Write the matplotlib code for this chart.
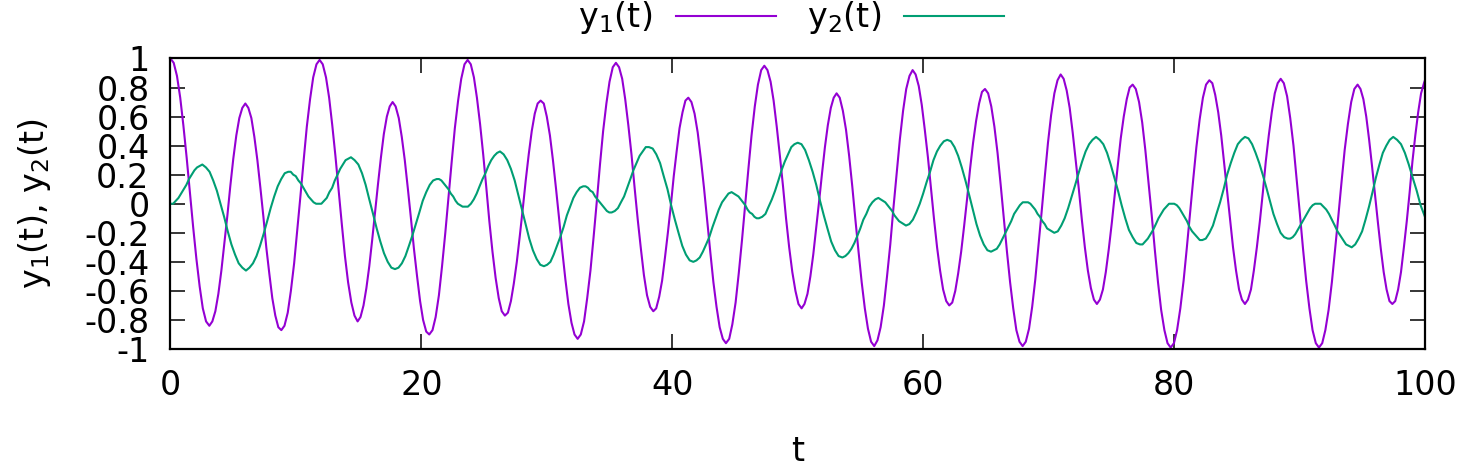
import matplotlib
matplotlib.use("Agg")
import matplotlib.pyplot as plt

# values, one row per half swing of the curve
t1 = [0,
      0.26, 0.52, 0.78, 1.03, 1.29, 1.55, 1.81, 2.07, 2.33, 2.58, 2.84, 3.10,
      3.34, 3.58, 3.82, 4.06, 4.30, 4.54, 4.77, 5.01, 5.25, 5.49, 5.73, 5.97,
      6.21, 6.45, 6.69, 6.93, 7.17, 7.41, 7.64, 7.88, 8.12, 8.36, 8.60, 8.84,
      9.09, 9.35, 9.60, 9.86, 10.11, 10.37, 10.62, 10.87, 11.13, 11.38, 11.64, 11.89,
      12.14, 12.40, 12.65, 12.90, 13.15, 13.41, 13.66, 13.91, 14.16, 14.42, 14.67, 14.92,
      15.15, 15.39, 15.62, 15.85, 16.08, 16.32, 16.55, 16.78, 17.01, 17.25, 17.48, 17.71,
      17.95, 18.20, 18.44, 18.68, 18.93, 19.17, 19.41, 19.66, 19.90, 20.14, 20.39, 20.63,
      20.89, 21.14, 21.40, 21.65, 21.91, 22.16, 22.42, 22.67, 22.93, 23.18, 23.44, 23.69,
      23.94, 24.19, 24.43, 24.68, 24.93, 25.18, 25.42, 25.67, 25.92, 26.17, 26.41, 26.66,
      26.90, 27.14, 27.37, 27.61, 27.85, 28.09, 28.32, 28.56, 28.80, 29.04, 29.27, 29.51,
      29.76, 30.00, 30.25, 30.49, 30.74, 30.99, 31.23, 31.48, 31.72, 31.97, 32.21, 32.46,
      32.71, 32.97, 33.22, 33.48, 33.73, 33.99, 34.24, 34.49, 34.75, 35.00, 35.26, 35.51,
      35.76, 36.01, 36.25, 36.50, 36.75, 37.00, 37.25, 37.50, 37.74, 37.99, 38.24, 38.49,
      38.72, 38.96, 39.19, 39.42, 39.65, 39.89, 40.12, 40.35, 40.58, 40.82, 41.05, 41.28,
      41.53, 41.78, 42.03, 42.28, 42.53, 42.78, 43.03, 43.28, 43.53, 43.78, 44.03, 44.28,
      44.54, 44.79, 45.05, 45.30, 45.56, 45.81, 46.07, 46.32, 46.58, 46.83, 47.09, 47.34,
      47.59, 47.84, 48.08, 48.33, 48.58, 48.83, 49.07, 49.32, 49.57, 49.82, 50.06, 50.31,
      50.54, 50.78, 51.01, 51.24, 51.47, 51.71, 51.94, 52.17, 52.40, 52.64, 52.87, 53.10,
      53.35, 53.60, 53.85, 54.10, 54.35, 54.60, 54.85, 55.10, 55.35, 55.60, 55.85, 56.10,
      56.36, 56.61, 56.87, 57.12, 57.38, 57.63, 57.89, 58.14, 58.40, 58.65, 58.91, 59.16,
      59.40, 59.65, 59.89, 60.13, 60.38, 60.62, 60.86, 61.11, 61.35, 61.59, 61.84, 62.08,
      62.32, 62.56, 62.79, 63.03, 63.27, 63.51, 63.74, 63.98, 64.22, 64.46, 64.69, 64.93,
      65.18, 65.43, 65.68, 65.93, 66.18, 66.43, 66.68, 66.93, 67.18, 67.43, 67.68, 67.93,
      68.18, 68.44, 68.69, 68.94, 69.19, 69.45, 69.70, 69.95, 70.20, 70.46, 70.71, 70.96,
      71.20, 71.44, 71.68, 71.92, 72.16, 72.41, 72.65, 72.89, 73.13, 73.37, 73.61, 73.85,
      74.09, 74.33, 74.56, 74.80, 75.04, 75.28, 75.51, 75.75, 75.99, 76.23, 76.46, 76.70,
      76.95, 77.21, 77.46, 77.71, 77.96, 78.22, 78.47, 78.72, 78.97, 79.23, 79.48, 79.73,
      79.99, 80.24, 80.50, 80.76, 81.01, 81.27, 81.53, 81.78, 82.04, 82.30, 82.55, 82.81,
      83.05, 83.28, 83.52, 83.76, 83.99, 84.23, 84.47, 84.70, 84.94, 85.18, 85.41, 85.65,
      85.89, 86.13, 86.36, 86.60, 86.84, 87.08, 87.31, 87.55, 87.79, 88.03, 88.26, 88.50,
      88.75, 89.01, 89.26, 89.52, 89.77, 90.03, 90.28, 90.53, 90.79, 91.04, 91.30, 91.55,
      91.81, 92.06, 92.32, 92.58, 92.83, 93.09, 93.35, 93.60, 93.86, 94.12, 94.37, 94.63,
      94.86, 95.09, 95.32, 95.55, 95.78, 96.02, 96.25, 96.48, 96.71, 96.94, 97.17, 97.40,
      97.63, 97.86, 98.09, 98.32, 98.55, 98.78, 99.00, 99.23, 99.46, 99.69, 99.92, 100.00]

y1 = [1.00,
      0.97, 0.88, 0.73, 0.54, 0.32, 0.08, -0.16, -0.38, -0.57, -0.72, -0.81, -0.84,
      -0.81, -0.74, -0.62, -0.46, -0.27, -0.08, 0.12, 0.31, 0.47, 0.59, 0.66, 0.69,
      0.66, 0.59, 0.46, 0.30, 0.11, -0.09, -0.30, -0.48, -0.65, -0.77, -0.85, -0.87,
      -0.84, -0.75, -0.60, -0.41, -0.18, 0.06, 0.30, 0.53, 0.72, 0.87, 0.96, 0.99,
      0.96, 0.87, 0.73, 0.54, 0.33, 0.09, -0.14, -0.36, -0.54, -0.68, -0.77, -0.81,
      -0.78, -0.70, -0.58, -0.43, -0.25, -0.05, 0.14, 0.32, 0.48, 0.60, 0.67, 0.70,
      0.67, 0.59, 0.46, 0.30, 0.10, -0.10, -0.31, -0.50, -0.67, -0.80, -0.88, -0.90,
      -0.87, -0.78, -0.63, -0.43, -0.20, 0.04, 0.29, 0.52, 0.71, 0.86, 0.96, 0.99,
      0.96, 0.87, 0.73, 0.55, 0.34, 0.11, -0.12, -0.33, -0.51, -0.65, -0.74, -0.77,
      -0.75, -0.67, -0.55, -0.40, -0.22, -0.03, 0.16, 0.34, 0.50, 0.62, 0.69, 0.71,
      0.69, 0.60, 0.47, 0.30, 0.10, -0.11, -0.32, -0.52, -0.69, -0.82, -0.90, -0.93,
      -0.90, -0.81, -0.65, -0.46, -0.23, 0.02, 0.27, 0.50, 0.69, 0.84, 0.94, 0.97,
      0.94, 0.86, 0.72, 0.54, 0.34, 0.11, -0.11, -0.31, -0.49, -0.63, -0.71, -0.74,
      -0.72, -0.64, -0.53, -0.37, -0.20, -0.01, 0.19, 0.36, 0.52, 0.63, 0.71, 0.73,
      0.70, 0.62, 0.49, 0.31, 0.11, -0.11, -0.33, -0.54, -0.71, -0.85, -0.93, -0.96,
      -0.93, -0.83, -0.68, -0.48, -0.25, -0.01, 0.24, 0.47, 0.67, 0.82, 0.92, 0.95,
      0.92, 0.84, 0.71, 0.53, 0.33, 0.12, -0.10, -0.30, -0.47, -0.60, -0.69, -0.72,
      -0.69, -0.62, -0.50, -0.35, -0.17, 0.02, 0.21, 0.39, 0.54, 0.66, 0.73, 0.76,
      0.73, 0.64, 0.51, 0.33, 0.12, -0.11, -0.33, -0.54, -0.72, -0.86, -0.95, -0.98,
      -0.94, -0.85, -0.70, -0.50, -0.28, -0.03, 0.21, 0.44, 0.64, 0.79, 0.88, 0.92,
      0.89, 0.81, 0.68, 0.51, 0.32, 0.11, -0.10, -0.30, -0.46, -0.59, -0.67, -0.70,
      -0.68, -0.60, -0.48, -0.33, -0.15, 0.04, 0.24, 0.42, 0.57, 0.69, 0.77, 0.79,
      0.76, 0.67, 0.53, 0.35, 0.13, -0.10, -0.33, -0.54, -0.72, -0.87, -0.95, -0.98,
      -0.95, -0.86, -0.71, -0.52, -0.29, -0.05, 0.19, 0.42, 0.61, 0.76, 0.85, 0.89,
      0.86, 0.78, 0.66, 0.49, 0.30, 0.10, -0.11, -0.30, -0.46, -0.58, -0.66, -0.69,
      -0.66, -0.59, -0.47, -0.31, -0.13, 0.07, 0.26, 0.45, 0.60, 0.72, 0.80, 0.82,
      0.79, 0.70, 0.56, 0.37, 0.15, -0.08, -0.32, -0.54, -0.73, -0.87, -0.96, -0.99,
      -0.96, -0.87, -0.72, -0.53, -0.31, -0.07, 0.17, 0.39, 0.58, 0.73, 0.82, 0.85,
      0.83, 0.75, 0.63, 0.47, 0.28, 0.08, -0.12, -0.30, -0.46, -0.59, -0.66, -0.69,
      -0.66, -0.59, -0.46, -0.30, -0.12, 0.08, 0.29, 0.47, 0.63, 0.76, 0.83, 0.86,
      0.83, 0.74, 0.59, 0.40, 0.17, -0.07, -0.31, -0.53, -0.72, -0.87, -0.96, -0.99,
      -0.96, -0.87, -0.73, -0.54, -0.32, -0.09, 0.15, 0.37, 0.55, 0.70, 0.79, 0.82,
      0.79, 0.72, 0.60, 0.44, 0.26, 0.06, -0.13, -0.31, -0.47, -0.59, -0.67, -0.69,
      -0.67, -0.59, -0.47, -0.30, -0.12, 0.08, 0.29, 0.47, 0.63, 0.76, 0.83, 0.85]

t2 = [0,
      0.21, 0.42, 0.64, 0.85, 1.06, 1.27, 1.48, 1.69, 1.91, 2.12, 2.33, 2.54,
      2.83, 3.12, 3.41, 3.70, 3.99, 4.28, 4.57, 4.86, 5.15, 5.44, 5.73, 6.02,
      6.30, 6.58, 6.86, 7.14, 7.42, 7.71, 7.99, 8.27, 8.55, 8.83, 9.11, 9.39,
      9.59, 9.79, 9.99, 10.20, 10.40, 10.60, 10.80, 11.00, 11.20, 11.41, 11.61, 11.81,
      12.03, 12.24, 12.46, 12.67, 12.89, 13.10, 13.32, 13.53, 13.75, 13.96, 14.18, 14.39,
      14.68, 14.98, 15.27, 15.56, 15.85, 16.15, 16.44, 16.73, 17.02, 17.32, 17.61, 17.90,
      18.18, 18.45, 18.73, 19.01, 19.28, 19.56, 19.84, 20.11, 20.39, 20.67, 20.94, 21.22,
      21.41, 21.60, 21.79, 21.97, 22.16, 22.35, 22.54, 22.73, 22.91, 23.10, 23.29, 23.48,
      23.71, 23.95, 24.18, 24.41, 24.64, 24.88, 25.11, 25.34, 25.57, 25.81, 26.04, 26.27,
      26.56, 26.85, 27.14, 27.44, 27.73, 28.02, 28.31, 28.60, 28.89, 29.19, 29.48, 29.77,
      30.03, 30.29, 30.55, 30.81, 31.07, 31.34, 31.60, 31.86, 32.12, 32.38, 32.64, 32.90,
      33.09, 33.28, 33.47, 33.66, 33.85, 34.04, 34.22, 34.41, 34.60, 34.79, 34.98, 35.17,
      35.42, 35.67, 35.91, 36.16, 36.41, 36.66, 36.90, 37.15, 37.40, 37.65, 37.89, 38.14,
      38.44, 38.73, 39.03, 39.32, 39.62, 39.91, 40.21, 40.50, 40.80, 41.09, 41.39, 41.68,
      41.93, 42.19, 42.44, 42.70, 42.95, 43.21, 43.46, 43.71, 43.97, 44.22, 44.48, 44.73,
      44.91, 45.09, 45.28, 45.46, 45.64, 45.82, 46.00, 46.18, 46.37, 46.55, 46.73, 46.91,
      47.17, 47.43, 47.68, 47.94, 48.20, 48.46, 48.71, 48.97, 49.23, 49.49, 49.74, 50.00,
      50.30, 50.59, 50.89, 51.19, 51.48, 51.78, 52.08, 52.37, 52.67, 52.97, 53.26, 53.56,
      53.80, 54.04, 54.28, 54.52, 54.76, 54.99, 55.23, 55.47, 55.71, 55.95, 56.19, 56.43,
      56.61, 56.80, 56.98, 57.16, 57.35, 57.53, 57.71, 57.90, 58.08, 58.26, 58.45, 58.63,
      58.90, 59.18, 59.45, 59.73, 60.00, 60.28, 60.55, 60.82, 61.10, 61.37, 61.65, 61.92,
      62.21, 62.50, 62.79, 63.08, 63.37, 63.67, 63.96, 64.25, 64.54, 64.83, 65.12, 65.41,
      65.64, 65.87, 66.10, 66.33, 66.56, 66.79, 67.02, 67.25, 67.48, 67.71, 67.94, 68.17,
      68.36, 68.55, 68.74, 68.93, 69.12, 69.31, 69.50, 69.69, 69.88, 70.07, 70.26, 70.45,
      70.73, 71.01, 71.28, 71.56, 71.84, 72.12, 72.39, 72.67, 72.95, 73.23, 73.50, 73.78,
      74.07, 74.36, 74.66, 74.95, 75.24, 75.53, 75.82, 76.11, 76.40, 76.70, 76.99, 77.28,
      77.49, 77.70, 77.91, 78.12, 78.33, 78.55, 78.76, 78.97, 79.18, 79.39, 79.60, 79.81,
      80.01, 80.22, 80.42, 80.62, 80.82, 81.03, 81.23, 81.44, 81.64, 81.84, 82.05, 82.25,
      82.53, 82.82, 83.10, 83.38, 83.67, 83.95, 84.23, 84.52, 84.80, 85.08, 85.37, 85.65,
      85.93, 86.22, 86.50, 86.79, 87.07, 87.36, 87.64, 87.92, 88.21, 88.49, 88.78, 89.06,
      89.26, 89.46, 89.66, 89.86, 90.06, 90.26, 90.45, 90.65, 90.85, 91.05, 91.25, 91.45,
      91.68, 91.90, 92.13, 92.35, 92.58, 92.81, 93.03, 93.26, 93.48, 93.71, 93.93, 94.16,
      94.44, 94.71, 94.99, 95.26, 95.54, 95.82, 96.09, 96.37, 96.64, 96.92, 97.19, 97.47,
      97.78, 98.09, 98.40, 98.71, 99.02, 99.34, 99.65, 100.00]

y2 = [0.00,
      0.00, 0.02, 0.04, 0.07, 0.10, 0.13, 0.17, 0.20, 0.23, 0.25, 0.26, 0.27,
      0.25, 0.22, 0.16, 0.09, 0.00, -0.09, -0.19, -0.28, -0.35, -0.41, -0.44, -0.46,
      -0.44, -0.41, -0.36, -0.29, -0.21, -0.12, -0.03, 0.05, 0.12, 0.17, 0.21, 0.22,
      0.22, 0.20, 0.19, 0.16, 0.14, 0.11, 0.08, 0.05, 0.03, 0.01, 0.00, 0.00,
      0.00, 0.02, 0.04, 0.08, 0.11, 0.16, 0.20, 0.24, 0.27, 0.30, 0.31, 0.32,
      0.30, 0.27, 0.21, 0.13, 0.03, -0.07, -0.17, -0.26, -0.34, -0.40, -0.44, -0.45,
      -0.44, -0.41, -0.36, -0.29, -0.22, -0.14, -0.06, 0.02, 0.08, 0.13, 0.16, 0.17,
      0.17, 0.16, 0.14, 0.12, 0.10, 0.07, 0.05, 0.02, 0.00, -0.01, -0.02, -0.02,
      -0.02, 0.00, 0.03, 0.07, 0.12, 0.17, 0.21, 0.26, 0.30, 0.33, 0.35, 0.36,
      0.34, 0.30, 0.24, 0.16, 0.06, -0.04, -0.14, -0.24, -0.32, -0.38, -0.42, -0.43,
      -0.42, -0.40, -0.35, -0.29, -0.23, -0.16, -0.08, -0.02, 0.04, 0.08, 0.11, 0.12,
      0.12, 0.11, 0.09, 0.08, 0.05, 0.03, 0.01, -0.01, -0.03, -0.05, -0.06, -0.06,
      -0.05, -0.03, 0.01, 0.05, 0.11, 0.17, 0.23, 0.28, 0.33, 0.36, 0.39, 0.39,
      0.38, 0.34, 0.28, 0.19, 0.10, -0.01, -0.11, -0.20, -0.29, -0.35, -0.39, -0.40,
      -0.39, -0.37, -0.33, -0.28, -0.23, -0.16, -0.10, -0.04, 0.01, 0.04, 0.07, 0.08,
      0.07, 0.06, 0.05, 0.03, 0.01, -0.01, -0.04, -0.06, -0.07, -0.09, -0.10, -0.10,
      -0.09, -0.07, -0.02, 0.03, 0.09, 0.16, 0.23, 0.29, 0.34, 0.39, 0.41, 0.42,
      0.41, 0.37, 0.30, 0.22, 0.13, 0.02, -0.08, -0.17, -0.26, -0.32, -0.36, -0.37,
      -0.36, -0.34, -0.31, -0.27, -0.22, -0.17, -0.11, -0.07, -0.02, 0.01, 0.03, 0.04,
      0.03, 0.02, 0.01, -0.01, -0.03, -0.05, -0.08, -0.10, -0.12, -0.13, -0.14, -0.15,
      -0.14, -0.11, -0.06, 0.00, 0.07, 0.15, 0.22, 0.30, 0.36, 0.40, 0.43, 0.44,
      0.43, 0.39, 0.33, 0.25, 0.16, 0.06, -0.04, -0.14, -0.22, -0.28, -0.32, -0.33,
      -0.32, -0.31, -0.28, -0.24, -0.20, -0.16, -0.12, -0.07, -0.04, -0.01, 0.01, 0.01,
      0.01, 0.00, -0.02, -0.04, -0.07, -0.09, -0.12, -0.14, -0.17, -0.18, -0.19, -0.20,
      -0.19, -0.15, -0.10, -0.03, 0.05, 0.13, 0.21, 0.29, 0.36, 0.41, 0.44, 0.46,
      0.44, 0.41, 0.35, 0.27, 0.18, 0.09, -0.01, -0.10, -0.18, -0.23, -0.27, -0.28,
      -0.28, -0.26, -0.24, -0.21, -0.18, -0.14, -0.10, -0.07, -0.04, -0.02, 0.00, 0.00,
      0.00, -0.01, -0.03, -0.06, -0.09, -0.12, -0.16, -0.19, -0.21, -0.23, -0.25, -0.25,
      -0.24, -0.20, -0.15, -0.07, 0.01, 0.10, 0.20, 0.28, 0.35, 0.41, 0.44, 0.46,
      0.45, 0.41, 0.35, 0.28, 0.20, 0.11, 0.02, -0.07, -0.14, -0.20, -0.23, -0.24,
      -0.24, -0.23, -0.21, -0.18, -0.15, -0.12, -0.09, -0.06, -0.03, -0.01, 0.00, 0.00,
      0.00, -0.02, -0.04, -0.07, -0.11, -0.15, -0.19, -0.22, -0.25, -0.28, -0.29, -0.30,
      -0.28, -0.24, -0.19, -0.11, -0.02, 0.08, 0.18, 0.27, 0.35, 0.40, 0.44, 0.46,
      0.44, 0.41, 0.35, 0.27, 0.18, 0.09, -0.01, -0.09]

x_ticks = [0, 20, 40, 60, 80, 100]
y_ticks = [-1, -0.8, -0.6, -0.4, -0.2, 0, 0.2, 0.4, 0.6, 0.8, 1]
y_tick_labels = ['-1', '-0.8', '-0.6', '-0.4', '-0.2', '0',
                 '0.2', '0.4', '0.6', '0.8', '1']
series_names = ['y$_1$(t)', 'y$_2$(t)']


def make_plot(output_path):
    """
    Draws both curves in a gnuplot-like frame and saves the picture.
    """
    plt.rcParams['font.family'] = ['DejaVu Sans']
    plt.rcParams['mathtext.fontset'] = 'dejavusans'
    plt.rcParams['axes.unicode_minus'] = False
    fs = 24

    fig = plt.figure(figsize=(14.63, 4.63), dpi=100)
    ax = fig.add_axes([0.1165, 0.2462, 0.8575, 0.6275])

    ax.plot(t1, y1, color='#9400d3', lw=1.5, label=series_names[0])
    ax.plot(t2, y2, color='#009e73', lw=1.5, label=series_names[1])

    ax.set_xlim(0, 100)
    ax.set_ylim(-1, 1)
    ax.set_xticks(x_ticks)
    ax.set_xticklabels([str(v) for v in x_ticks])
    ax.set_yticks(y_ticks)
    ax.set_yticklabels(y_tick_labels)
    ax.tick_params(direction='in', length=11, width=1.1, top=True, right=True,
                   labelsize=fs)
    ax.tick_params(axis='y', pad=15)
    ax.tick_params(axis='x', pad=14.5)
    for s in ax.spines.values():
        s.set_linewidth(1.6)

    ax.set_xlabel('t', fontsize=fs)
    ax.set_ylabel('y$_1$(t), y$_2$(t)', fontsize=fs)
    ax.xaxis.set_label_coords(0.5, -0.295)
    ax.yaxis.set_label_coords(-0.094, 0.5)

    ax.legend(loc='center', bbox_to_anchor=(0.495, 1.14), ncol=2,
              frameon=False, markerfirst=False, fontsize=fs,
              handlelength=3.0, handletextpad=0.7, columnspacing=0.93,
              borderaxespad=0, borderpad=0)

    fig.savefig(output_path, dpi=100)
    plt.close(fig)


if __name__ == "__main__":
    make_plot('out.png')
